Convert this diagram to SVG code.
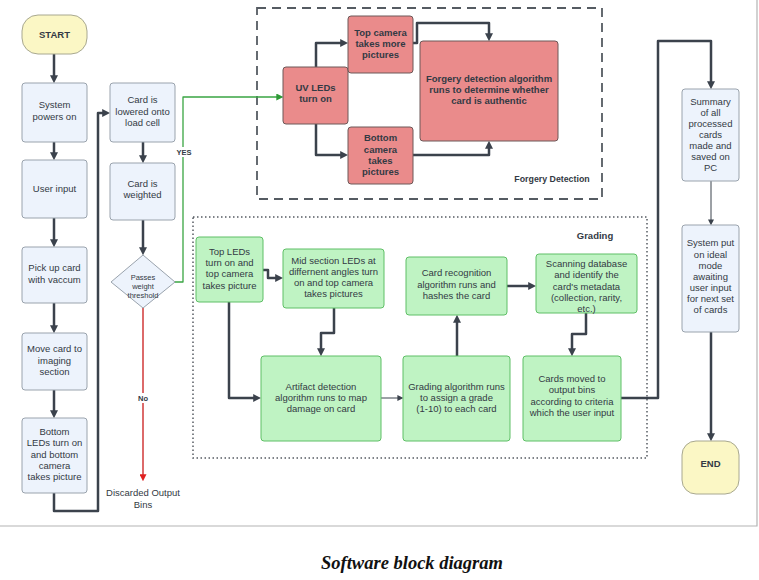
<svg xmlns="http://www.w3.org/2000/svg" width="759" height="580" viewBox="0 0 759 580">
<style>
  text { font-family: "Liberation Sans", Arial, sans-serif; fill: #333a44; text-anchor: middle; }
  .t { font-size: 9.5px; }
  .b { font-size: 9.5px; font-weight: bold; }
  .s { font-size: 7.5px; }
  .blue { fill: #edf3fc; stroke: #9aa3ad; stroke-width: 1; }
  .term { fill: #fbf7c5; stroke: #a8a890; stroke-width: 1; }
  .red { fill: #ea8b8b; stroke: #6d5858; stroke-width: 1; }
  .green { fill: #bff3c3; stroke: #5fbf66; stroke-width: 1; }
  .c { fill: none; stroke: #3b424c; stroke-width: 2.5; stroke-linejoin: round; }
  .thin { fill: none; stroke: #3b424c; stroke-width: 1; }
</style>
<defs>
  <marker id="ah" markerUnits="userSpaceOnUse" markerWidth="8" markerHeight="8" viewBox="0 0 10 10" refX="1" refY="5" orient="auto">
    <path d="M0,0 L10,5 L0,10 z" fill="#3b424c"/>
  </marker>
  <marker id="ahs" markerUnits="userSpaceOnUse" markerWidth="6" markerHeight="6" viewBox="0 0 10 10" refX="1" refY="5" orient="auto">
    <path d="M0,0 L10,5 L0,10 z" fill="#3b424c"/>
  </marker>
  <marker id="ahg" markerUnits="userSpaceOnUse" markerWidth="7" markerHeight="7" viewBox="0 0 10 10" refX="1" refY="5" orient="auto">
    <path d="M0,0 L10,5 L0,10 z" fill="#2e9a36"/>
  </marker>
  <marker id="ahr" markerUnits="userSpaceOnUse" markerWidth="7" markerHeight="7" viewBox="0 0 10 10" refX="1" refY="5" orient="auto">
    <path d="M0,0 L10,5 L0,10 z" fill="#e02020"/>
  </marker>
</defs>
<rect x="0" y="0" width="759" height="580" fill="#ffffff"/>
<path d="M0,526 H757 V0" fill="none" stroke="#b4b4b4" stroke-width="1.2"/>

<!-- containers -->
<g id="forgery-group">
  <rect x="257" y="8" width="345" height="191" fill="none" stroke="#555b62" stroke-width="1.8" stroke-dasharray="9,6"/>
  <text class="b" x="552" y="182" style="font-size:8.8px">Forgery Detection</text>
</g>
<g id="grading-group">
  <rect x="193" y="217" width="454" height="241" fill="none" stroke="#555b62" stroke-width="1.5" stroke-dasharray="1.5,2.5"/>
  <text class="b" x="595" y="239">Grading</text>
</g>

<!-- connectors -->
<g id="connectors">
  <path class="c" d="M54,54 V76" marker-end="url(#ah)"/>
  <path class="c" d="M54,142 V153" marker-end="url(#ah)"/>
  <path class="c" d="M54,218 V240" marker-end="url(#ah)"/>
  <path class="c" d="M54,303 V326" marker-end="url(#ah)"/>
  <path class="c" d="M54,390 V411" marker-end="url(#ah)"/>
  <path class="c" d="M54,493 V511 H98 V113 H103" marker-end="url(#ah)"/>
  <path class="c" d="M143,142 V156" marker-end="url(#ah)"/>
  <path class="c" d="M143,220 V248" marker-end="url(#ah)"/>
  <path d="M143,308 V475" fill="none" stroke="#d95a5a" stroke-width="1.8" marker-end="url(#ahr)"/>
  <path d="M174,282 H183 V97 H277" fill="none" stroke="#3aa543" stroke-width="1.3" stroke-linejoin="round" marker-end="url(#ahg)"/>
  <rect x="175" y="147" width="17" height="10" fill="#ffffff"/>
  <text class="s" x="184" y="155" style="font-weight:bold">YES</text>
  <rect x="135" y="393" width="16" height="10" fill="#ffffff"/>
  <text class="s" x="143" y="401" style="font-weight:bold">No</text>
  <path class="c" d="M316,67 V43 H341" marker-end="url(#ah)"/>
  <path class="c" d="M316,124 V155 H341" marker-end="url(#ah)"/>
  <path class="c" d="M413,43 H417 V23 H489 V34" marker-end="url(#ah)"/>
  <path class="c" d="M413,155 H489 V148" marker-end="url(#ah)"/>
  <path class="c" d="M263,270 H268 V278 H276" marker-end="url(#ah)"/>
  <path class="c" d="M229,302 V398 H254" marker-end="url(#ah)"/>
  <path class="c" d="M334,308 V333 H321 V349" marker-end="url(#ah)"/>
  <path class="thin" d="M381,398 H398" marker-end="url(#ahs)"/>
  <path class="c" d="M457,356 V322" marker-end="url(#ah)"/>
  <path class="c" d="M507,286 H529" marker-end="url(#ah)"/>
  <path class="c" d="M586,313 V334 H572 V349" marker-end="url(#ah)"/>
  <path class="c" d="M621,398 H658 V41 H711 V82" marker-end="url(#ah)"/>
  <path class="thin" d="M711,181 V220" marker-end="url(#ahs)"/>
  <path class="c" d="M711,332 V434" marker-end="url(#ah)"/>
</g>

<!-- left column -->
<g id="start">
  <rect class="term" x="22" y="15" width="65" height="39" rx="16" ry="16"/>
  <text class="b" x="54.5" y="38">START</text>
</g>
<g id="system-powers-on">
  <rect class="blue" x="22" y="83" width="65" height="59" rx="3"/>
  <text class="t" x="54.5" y="108">System</text>
  <text class="t" x="54.5" y="120">powers on</text>
</g>
<g id="user-input">
  <rect class="blue" x="22" y="160" width="65" height="58" rx="3"/>
  <text class="t" x="54.5" y="192">User input</text>
</g>
<g id="pick-up-card">
  <rect class="blue" x="22" y="247" width="65" height="56" rx="3"/>
  <text class="t" x="54.5" y="271">Pick up card</text>
  <text class="t" x="54.5" y="283">with vaccum</text>
</g>
<g id="move-card">
  <rect class="blue" x="22" y="333" width="65" height="57" rx="3"/>
  <text class="t" x="54.5" y="352">Move card to</text>
  <text class="t" x="54.5" y="364">imaging</text>
  <text class="t" x="54.5" y="375">section</text>
</g>
<g id="bottom-leds">
  <rect class="blue" x="22" y="418" width="65" height="75" rx="3"/>
  <text class="t" x="54.5" y="435">Bottom</text>
  <text class="t" x="54.5" y="446">LEDs turn on</text>
  <text class="t" x="54.5" y="458">and bottom</text>
  <text class="t" x="54.5" y="469">camera</text>
  <text class="t" x="54.5" y="480">takes picture</text>
</g>

<!-- second column -->
<g id="card-lowered">
  <rect class="blue" x="110" y="83" width="65" height="59" rx="3"/>
  <text class="t" x="142.5" y="103">Card is</text>
  <text class="t" x="142.5" y="115">lowered onto</text>
  <text class="t" x="142.5" y="126">load cell</text>
</g>
<g id="card-weighted">
  <rect class="blue" x="110" y="163" width="65" height="57" rx="3"/>
  <text class="t" x="142.5" y="187">Card is</text>
  <text class="t" x="142.5" y="198">weighted</text>
</g>
<g id="weight-decision">
  <path class="blue" d="M143,255 L175,282 L143,308 L111,282 Z"/>
  <text class="s" x="143" y="280">Passes</text>
  <text class="s" x="143" y="289">weight</text>
  <text class="s" x="143" y="298">threshold</text>
</g>
<g id="discarded">
  <text class="t" x="143" y="496">Discarded Output</text>
  <text class="t" x="143" y="508">Bins</text>
</g>

<!-- forgery detection -->
<g id="uv-leds">
  <rect class="red" x="283" y="67" width="65" height="57" rx="3"/>
  <text class="b" x="315.5" y="91">UV LEDs</text>
  <text class="b" x="315.5" y="102">turn on</text>
</g>
<g id="top-camera">
  <rect class="red" x="348" y="16" width="65" height="57" rx="3"/>
  <text class="b" x="380.5" y="36">Top camera</text>
  <text class="b" x="380.5" y="47">takes more</text>
  <text class="b" x="380.5" y="58">pictures</text>
</g>
<g id="bottom-camera">
  <rect class="red" x="348" y="127" width="65" height="57" rx="3"/>
  <text class="b" x="380.5" y="141">Bottom</text>
  <text class="b" x="380.5" y="153">camera</text>
  <text class="b" x="380.5" y="164">takes</text>
  <text class="b" x="380.5" y="175">pictures</text>
</g>
<g id="forgery-algorithm">
  <rect class="red" x="420" y="41" width="138" height="100" rx="3"/>
  <text class="b" x="489" y="82">Forgery detection algorithm</text>
  <text class="b" x="489" y="93">runs to determine whether</text>
  <text class="b" x="489" y="104">card is authentic</text>
</g>

<!-- grading -->
<g id="top-leds">
  <rect class="green" x="196" y="237" width="67" height="65" rx="3"/>
  <text class="t" x="229.5" y="255">Top LEDs</text>
  <text class="t" x="229.5" y="266">turn on and</text>
  <text class="t" x="229.5" y="277">top camera</text>
  <text class="t" x="229.5" y="289">takes picture</text>
</g>
<g id="mid-section-leds">
  <rect class="green" x="283" y="249" width="101" height="59" rx="3"/>
  <text class="t" x="333.5" y="264">Mid section LEDs at</text>
  <text class="t" x="333.5" y="275">differnent angles turn</text>
  <text class="t" x="333.5" y="286">on and top camera</text>
  <text class="t" x="333.5" y="297">takes pictures</text>
</g>
<g id="artifact-detection">
  <rect class="green" x="261" y="356" width="120" height="85" rx="3"/>
  <text class="t" x="321" y="390">Artifact detection</text>
  <text class="t" x="321" y="401">algorithm runs to map</text>
  <text class="t" x="321" y="412">damage on card</text>
</g>
<g id="grading-algorithm">
  <rect class="green" x="403" y="356" width="107" height="85" rx="3"/>
  <text class="t" x="456.5" y="390">Grading algorithm runs</text>
  <text class="t" x="456.5" y="401">to assign a grade</text>
  <text class="t" x="456.5" y="412">(1-10) to each card</text>
</g>
<g id="card-recognition">
  <rect class="green" x="406" y="257" width="101" height="58" rx="3"/>
  <text class="t" x="456.5" y="276">Card recognition</text>
  <text class="t" x="456.5" y="288">algorithm runs and</text>
  <text class="t" x="456.5" y="299">hashes the card</text>
</g>
<g id="scanning-database">
  <rect class="green" x="536" y="254" width="101" height="59" rx="3"/>
  <text class="t" x="586.5" y="267">Scanning database</text>
  <text class="t" x="586.5" y="278">and identify the</text>
  <text class="t" x="586.5" y="290">card's metadata</text>
  <text class="t" x="586.5" y="301">(collection, rarity,</text>
  <text class="t" x="586.5" y="312">etc.)</text>
</g>
<g id="cards-moved">
  <rect class="green" x="523" y="356" width="98" height="85" rx="3"/>
  <text class="t" x="572" y="382">Cards moved to</text>
  <text class="t" x="572" y="393">output bins</text>
  <text class="t" x="572" y="405">according to criteria</text>
  <text class="t" x="572" y="416">which the user input</text>
</g>

<!-- right column -->
<g id="summary">
  <rect class="blue" x="682" y="89" width="57" height="92" rx="3"/>
  <text class="t" x="710.5" y="105">Summary</text>
  <text class="t" x="710.5" y="116">of all</text>
  <text class="t" x="710.5" y="127">processed</text>
  <text class="t" x="710.5" y="138">cards</text>
  <text class="t" x="710.5" y="149">made and</text>
  <text class="t" x="710.5" y="160">saved on</text>
  <text class="t" x="710.5" y="171">PC</text>
</g>
<g id="system-idle">
  <rect class="blue" x="682" y="225" width="57" height="107" rx="3"/>
  <text class="t" x="710.5" y="246">System put</text>
  <text class="t" x="710.5" y="258">on ideal</text>
  <text class="t" x="710.5" y="269">mode</text>
  <text class="t" x="710.5" y="280">awaiting</text>
  <text class="t" x="710.5" y="291">user input</text>
  <text class="t" x="710.5" y="302">for next set</text>
  <text class="t" x="710.5" y="313">of cards</text>
</g>
<g id="end">
  <rect class="term" x="682" y="441" width="57" height="53" rx="14" ry="14"/>
  <text class="b" x="710.5" y="467">END</text>
</g>

<text x="412" y="569" style="font-family:'Liberation Serif','Times New Roman',serif;font-style:italic;font-weight:bold;font-size:18.5px;fill:#111111">Software block diagram</text>
</svg>
